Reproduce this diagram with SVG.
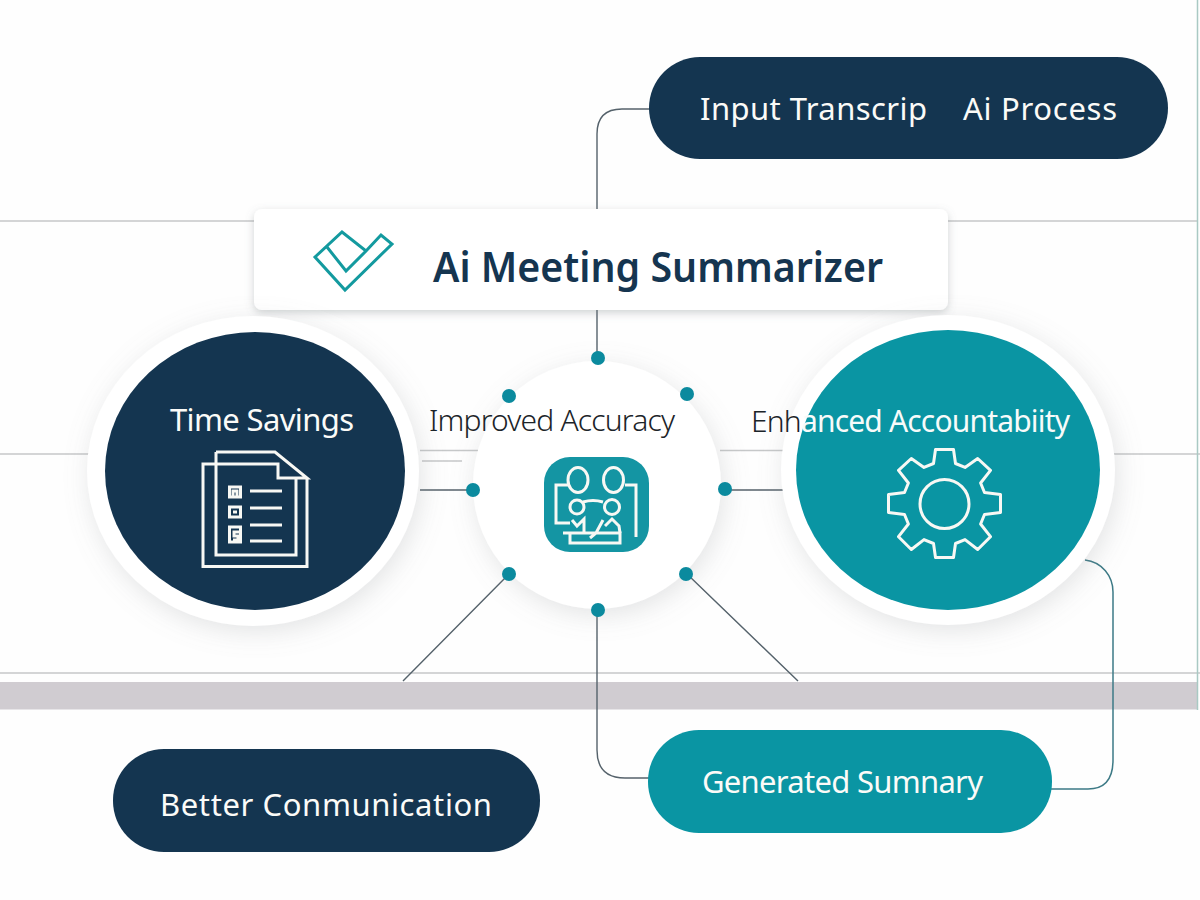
<svg xmlns="http://www.w3.org/2000/svg" width="1200" height="900" viewBox="0 0 1200 900">
<defs>
<filter id="soft" x="-30%" y="-30%" width="160%" height="160%"><feDropShadow dx="3" dy="6" stdDeviation="13" flood-color="#8a8f94" flood-opacity="0.24"/></filter>
<filter id="card" x="-10%" y="-30%" width="120%" height="160%"><feDropShadow dx="0" dy="3" stdDeviation="4" flood-color="#70767c" flood-opacity="0.32"/></filter>
</defs>
<style>
.t{font-family:"Noto Sans","Open Sans","Liberation Sans",sans-serif}
.w{fill:#fbfbf8;font-size:31px}
.d{fill:#1c2429;font-size:30px;font-weight:300}
.bg{stroke:#c6c8c9;stroke-width:1.3;fill:none}
.c{stroke:#55626b;stroke-width:1.4;fill:none}
.ic{fill:none;stroke:#f8f8f4;stroke-width:3}
.dot{fill:#0b8a9e}
.navy{fill:#143550}
.teal{fill:#0a95a3}
</style>
<rect width="1200" height="900" fill="#fefefe"/>
<g id="background">
<path class="bg" d="M0 221H255M948 221H1197M0 454H95M1100 454H1200M0 673H1200"/>
<rect x="0" y="682" width="1198" height="27.500" fill="#d0ccd1"/>
<path d="M1197.500 0V710" stroke="#a9c9c4" stroke-width="1.500" fill="none"/>
</g>
<g id="connectors">
<path class="c" d="M650 109H622Q597 109 597 134V210"/>
<path class="c" d="M597 308V358"/>
<path class="c" d="M420 490H473M725 490H785"/>
<path class="bg" d="M420 450.500H478M720 450.500H785M422 461H462"/>
<path class="c" d="M509 574L403 681M687 574L798 681"/>
<path class="c" d="M597 610V750Q597 778 625 778H650"/>
<path d="M1085 560C1102 562 1113 576 1113 592V760Q1113 789 1088 789H1050" fill="none" stroke="#3d7a86" stroke-width="1.500"/>
</g>
<g id="node-input">
<rect class="navy" x="649" y="57" width="519" height="102" rx="51"/>
<text class="t w" x="700" y="120" textLength="227">Input Transcrip</text>
<text class="t w" x="963" y="120" textLength="154">Ai Process</text>
</g>
<g id="node-title">
<rect x="254" y="209" width="694" height="101" rx="8" fill="#ffffff" filter="url(#card)"/>
<path d="M315 257L342 232L366 251L381 235L392 244L345 290ZM327 247L346 271L366 251" fill="none" stroke="#139a9f" stroke-width="3"/>
<text class="t" x="433" y="282" font-size="41" font-weight="600" fill="#153550" textLength="450" lengthAdjust="spacingAndGlyphs">Ai Meeting Summarizer</text>
</g>
<g id="node-time">
<ellipse cx="253" cy="471" rx="166" ry="155" fill="#ffffff" filter="url(#soft)"/>
<ellipse class="navy" cx="255" cy="471" rx="150" ry="139"/>
<text class="t w" x="170" y="431" textLength="184">Time Savings</text>
<path class="ic" d="M216 452H275L307 478H278V464H203V566.500H307V478M216 452V555H296V478"/>
<path d="M250 491H282M250 508H282M250 525H282M250 541H282" class="ic" stroke-width="2.500"/>
<path d="M229.500 487H240.500V497H229.500ZM229.500 507H240.500V517H229.500ZM229.500 527H240.500V542H229.500Z" class="ic"/>
<path d="M233 497V491H237V497M233 512H237M240 532H234V536H238V540H233" class="ic" stroke-width="1.800"/>
</g>
<g id="node-center">
<circle cx="597" cy="485" r="124" fill="#ffffff" filter="url(#soft)"/>
<g class="dot">
<circle cx="598" cy="358" r="7"/><circle cx="687" cy="394" r="7"/><circle cx="509" cy="396" r="7"/>
<circle cx="473" cy="490" r="7"/><circle cx="725" cy="489" r="7"/><circle cx="509" cy="574" r="7"/>
<circle cx="686" cy="574" r="7"/><circle cx="598" cy="610" r="7"/>
</g>
<text class="t d" x="429" y="431" textLength="246">Improved Accuracy</text>
<rect x="544" y="457" width="105" height="95" rx="26" fill="#1495a3"/>
<g class="ic">
<ellipse cx="578" cy="480" rx="10" ry="12.500"/><ellipse cx="613.500" cy="480" rx="10" ry="12.500"/>
<path d="M568 485H556V523H570M625 485H636V537"/>
<circle cx="577" cy="507" r="7"/><circle cx="612" cy="507" r="7.500"/>
<path d="M583 502Q593 499 603 502M572 520L577 526L584 519V533M605 526L612 519L619 526L620 533"/>
<path d="M563 533H573M570 533H620V543H570ZM590 538L596 533L603 520"/>
</g>
</g>
<g id="node-accountability">
<ellipse cx="948" cy="470" rx="167" ry="155" fill="#ffffff" filter="url(#soft)"/>
<ellipse class="teal" cx="948" cy="470" rx="152" ry="140"/>
<text class="t d" x="751" y="432" textLength="319"><tspan>Enh</tspan><tspan fill="#f7fbfa" font-weight="400">anced Accountabiity</tspan></text>
<g transform="translate(0.500 0.500)">
<path class="ic" stroke-width="4" stroke-linejoin="round" d="M933 463L935 449H953L955 463L964.500 466.900L977.200 458L990 469.800L980.100 482.500L984 492L1000 494V512L984 514L980.100 523.500L990 536.200L977.200 549L964.500 539.100L955 543L953 557H935L933 543L923.500 539.100L910.800 549L898 536.200L907.900 523.500L904 514L888 512V494L904 492L907.900 482.500L898 469.800L910.800 458L923.500 466.900Z"/>
<circle class="ic" stroke-width="4" cx="944" cy="503.500" r="24.500"/>
</g>
</g>
<g id="node-communication">
<rect class="navy" x="113" y="749" width="427" height="103" rx="51"/>
<text class="t w" x="160" y="816" textLength="332">Better Conmunication</text>
</g>
<g id="node-summary">
<rect class="teal" x="648" y="730" width="404" height="103" rx="51"/>
<text class="t w" x="702" y="793" textLength="281">Generated Sumnary</text>
</g>
</svg>
